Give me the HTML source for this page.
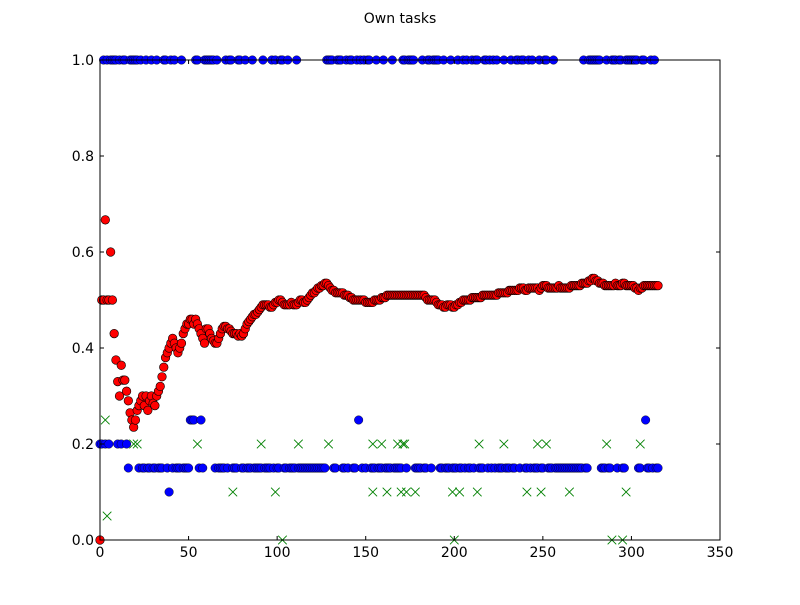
<!DOCTYPE html>
<html><head><meta charset="utf-8"><style>
body{margin:0;background:#fff;}
svg text{font-family:"DejaVu Sans","Liberation Sans",sans-serif;}
</style></head><body>
<svg id="chart" width="800" height="600" xmlns="http://www.w3.org/2000/svg">
<rect width="800" height="600" fill="#fff"/>
<text x="400" y="23" font-size="14" text-anchor="middle">Own tasks</text>
<g id="marks"></g>
<rect x="100" y="60" width="620" height="480" fill="none" stroke="#000" stroke-width="1"/>
<g id="axes"></g>
</svg>
<script>
const xTicks=[0,50,100,150,200,250,300,350];
const yTicks=[0.0,0.2,0.4,0.6,0.8,1.0];
const yTickLabels=["0.0","0.2","0.4","0.6","0.8","1.0"];
const blueValues=[.2,.2,1,.2,1,.2,1,1,1,1,.2,1,.2,1,1,.2,.15,1,1,1,
1,1,.15,1,.15,.15,1,.15,.15,1,.15,.15,1,.15,.15,.15,1,1,.15,.1,
1,.15,1,.15,.15,.15,1,.15,.15,.15,.15,.25,.25,.25,1,1,.15,.25,.15,1,
1,1,1,1,1,.15,1,.15,.15,.15,.15,1,.15,1,1,.15,.15,.15,1,1,
.15,.15,1,.15,.15,.15,1,.15,.15,.15,.15,.15,1,.15,.15,.15,.15,1,.15,1,
.15,.15,1,1,.15,.15,1,.15,.15,.15,.15,1,.15,.15,.15,.15,.15,.15,.15,.15,
.15,.15,.15,.15,.15,.15,.15,.15,1,1,1,1,.15,.15,1,1,1,.15,.15,1,
.15,1,1,.15,.15,1,.25,1,.15,1,.15,1,1,.15,.15,.15,1,.15,.15,.15,
1,.15,.15,.15,.15,1,.15,.15,.15,.15,.15,1,1,.15,1,1,1,1,.15,.15,
.15,.15,1,.15,.15,1,1,.15,1,1,1,1,.15,.15,1,.15,.15,.15,1,.15,
.15,.15,1,.15,.15,1,.15,1,.15,.15,1,.15,1,1,.15,.15,.15,1,1,.15,
1,.15,1,.15,1,.15,.15,.15,1,.15,.15,.15,1,.15,.15,1,1,.15,1,1,
.15,.15,1,.15,1,.15,.15,.15,1,.15,.15,1,1,.15,.15,.15,1,.15,.15,.15,
.15,.15,.15,.15,.15,.15,.15,.15,.15,.15,.15,.15,.15,1,.15,.15,1,1,1,1,
1,1,1,.15,.15,.15,1,.15,.15,1,1,1,.15,1,1,.15,.15,1,1,1,
1,1,1,1,.15,.15,1,1,.25,.15,.15,1,.15,1,.15,.15];
const greenX=[3,4,19,21,55,91,112,129,154,159,168,172,171,214,228,247,252,286,305,75,99,154,162,170,173,178,199,203,213,241,249,265,297,103,200,289,295];
const greenY=[.25,.05,.2,.2,.2,.2,.2,.2,.2,.2,.2,.2,.2,.2,.2,.2,.2,.2,.2,.1,.1,.1,.1,.1,.1,.1,.1,.1,.1,.1,.1,.1,.1,0,0,0,0];
const redValues=[0,.5,.5,.667,.5,.5,.6,.5,.43,.375,.33,.3,.364,.333,.333,.31,.29,.265,.25,.235,
.25,.27,.28,.29,.3,.28,.3,.27,.29,.3,.285,.28,.3,.31,.32,.34,.36,.38,.39,.4,
.41,.42,.41,.4,.39,.4,.41,.43,.44,.45,.45,.46,.46,.45,.46,.45,.44,.43,.42,.41,
.44,.44,.43,.42,.415,.41,.41,.42,.43,.44,.445,.445,.44,.44,.435,.43,.43,.43,.425,.43,
.425,.43,.44,.45,.455,.46,.465,.47,.47,.475,.48,.485,.49,.49,.49,.49,.485,.485,.49,.495,
.495,.5,.5,.495,.49,.49,.49,.49,.495,.49,.49,.49,.495,.5,.5,.495,.495,.5,.505,.51,
.515,.515,.52,.525,.525,.53,.53,.535,.535,.53,.525,.52,.52,.515,.515,.515,.515,.515,.51,.51,
.51,.505,.505,.5,.5,.5,.5,.5,.5,.5,.495,.495,.495,.495,.495,.5,.5,.5,.5,.505,
.505,.505,.51,.51,.51,.51,.51,.51,.51,.51,.51,.51,.51,.51,.51,.51,.51,.51,.51,.51,
.51,.51,.51,.51,.505,.5,.5,.5,.5,.5,.495,.49,.49,.49,.485,.485,.49,.49,.49,.485,
.485,.49,.49,.495,.495,.5,.5,.5,.5,.5,.505,.505,.505,.505,.505,.505,.51,.51,.51,.51,
.51,.51,.51,.51,.51,.515,.515,.515,.515,.515,.515,.52,.52,.52,.52,.52,.52,.525,.525,.525,
.52,.52,.525,.525,.525,.525,.525,.525,.52,.525,.53,.53,.53,.525,.525,.525,.525,.525,.525,.53,
.525,.525,.525,.525,.525,.525,.53,.53,.53,.53,.53,.53,.535,.535,.535,.535,.54,.54,.545,.545,
.54,.54,.535,.535,.535,.53,.53,.53,.53,.53,.53,.535,.53,.53,.53,.535,.535,.53,.53,.53,
.53,.53,.525,.525,.52,.525,.525,.53,.53,.53,.53,.53,.53,.53,.53,.53];

const NS="http://www.w3.org/2000/svg";
const X=v=>100+v*620/350, Y=v=>540-v*480;
const marks=document.getElementById('marks'), axes=document.getElementById('axes');
function mk(t,a,p){const e=document.createElementNS(NS,t);for(const k in a)e.setAttribute(k,a[k]);p.appendChild(e);return e;}
blueValues.forEach((v,i)=>{
  const c=mk('circle',{cx:X(i),cy:Y(v),r:4.3,fill:'#0000ff',stroke:'#000',"stroke-width":0.4},marks);
  
  
});
greenX.forEach((x,i)=>{
  const cx=X(x),cy=Y(greenY[i]),s=4.3;
  const p=mk('path',{d:`M${cx-s},${cy-s}L${cx+s},${cy+s}M${cx-s},${cy+s}L${cx+s},${cy-s}`,stroke:'#008000',"stroke-width":0.9,fill:'none'},marks);
  
  
});
redValues.forEach((v,i)=>{
  const c=mk('circle',{cx:X(i),cy:Y(v),r:4.3,fill:'#ff0000',stroke:'#000',"stroke-width":0.6},marks);
  
  
});
xTicks.forEach(t=>{
  const x=X(t);
  mk('line',{x1:x,y1:540,x2:x,y2:536,stroke:'#000'},axes);
  mk('line',{x1:x,y1:60,x2:x,y2:64,stroke:'#000'},axes);
  const tx=mk('text',{x:x,y:557,"font-size":14,"text-anchor":"middle"},axes);
  tx.textContent=t;
  
  
});
yTicks.forEach((t,i)=>{
  const y=Y(t);
  mk('line',{x1:100,y1:y,x2:104,y2:y,stroke:'#000'},axes);
  mk('line',{x1:720,y1:y,x2:716,y2:y,stroke:'#000'},axes);
  const tx=mk('text',{x:94,y:y+5,"font-size":14,"text-anchor":"end"},axes);
  tx.textContent=yTickLabels[i];
  
  
});
</script>
</body></html>
